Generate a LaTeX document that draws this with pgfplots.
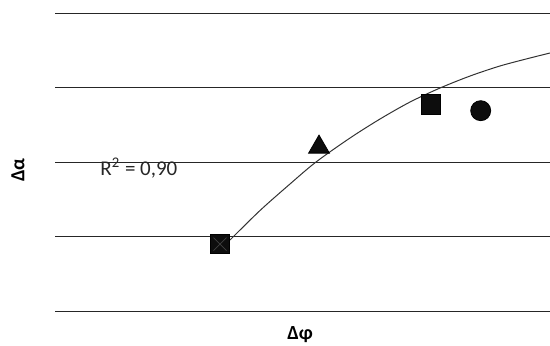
\documentclass[border=0pt]{standalone}
\usepackage{fontspec}
\setmainfont{Carlito}
\usepackage{pgfplots}
\pgfplotsset{compat=1.18}
\begin{document}
\begin{tikzpicture}
\begin{axis}[
  at={(0,0)}, anchor=south west,
  scale only axis,
  width=247.5pt, height=149pt,
  xmin=0, xmax=495, ymin=0, ymax=4,
  axis lines=none,
  clip=false,
  ytick={0,1,2,3,4}, xtick=\empty,
  font=\fontsize{9.5}{11}\selectfont,
]
% gridlines
\foreach \yy in {0,1,2,3,4} {
  \edef\temp{\noexpand\addplot[black!85, line width=0.5pt, forget plot] coordinates {(0,\yy) (495,\yy)};}
  \temp
}
% trend curve
\addplot[black!80, line width=0.5pt, smooth] coordinates {
(175,0.953) (205,1.349) (235,1.705) (261,2.000) (295,2.322) (325,2.577)
(355,2.805) (385,2.993) (415,3.154) (445,3.289) (475,3.396) (495,3.463)};
% markers
\addplot[only marks, mark=square*, mark size=4.8pt, black, fill=black!95] coordinates {(165,0.899)};
\addplot[only marks, mark=x, mark size=4.6pt, black!75, line width=0.35pt] coordinates {(165,0.899)};
\addplot[only marks, mark=triangle*, mark size=6pt, black, fill=black!95] coordinates {(264,2.20)};
\addplot[only marks, mark=square*, mark size=4.8pt, black, fill=black!95] coordinates {(376,2.772)};
\addplot[only marks, mark=*, mark size=5pt, black, fill=black!95] coordinates {(425.7,2.689)};
\node[anchor=west, inner sep=0pt, text=black!85, font=\fontsize{10.5}{12}\selectfont] at (axis cs:45,1.92) {R\textsuperscript{2} = 0,90};
\node[font=\fontsize{10}{12}\selectfont\bfseries, inner sep=0pt] at ([yshift=-12pt]rel axis cs:0.495,0) {Δφ};
\node[font=\fontsize{10}{12}\selectfont\bfseries, inner sep=0pt, rotate=90] at ([xshift=-18.5pt]rel axis cs:0,0.473) {Δα};
\end{axis}
\pgfresetboundingbox
\useasboundingbox (-27.5pt,-17pt) rectangle (247.5pt,155.5pt);
\end{tikzpicture}
\end{document}
